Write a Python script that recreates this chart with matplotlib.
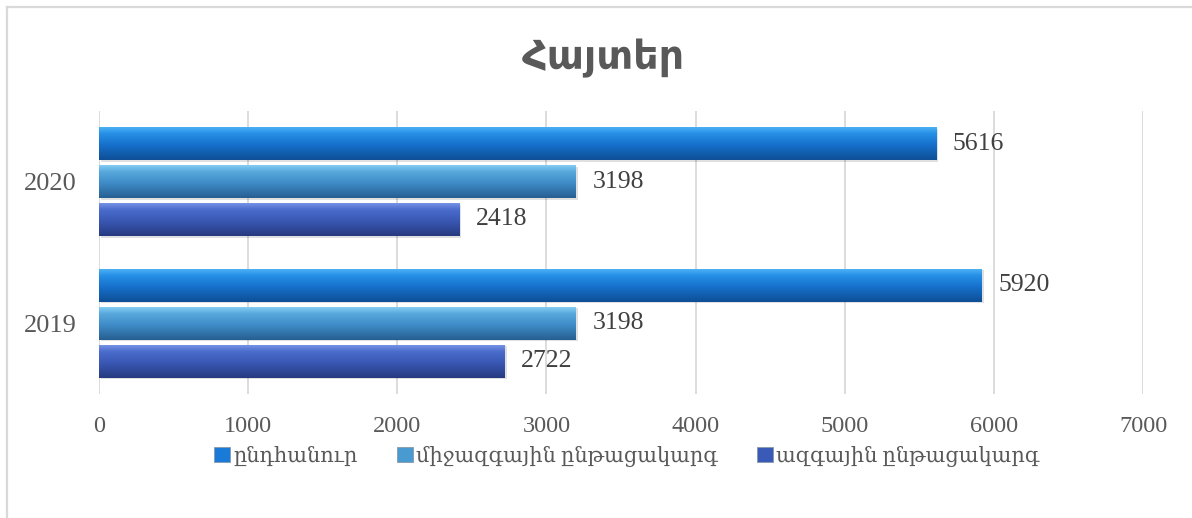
import numpy as np
import matplotlib
matplotlib.use("Agg")
import matplotlib.pyplot as plt
from matplotlib.patches import Patch
from matplotlib.lines import Line2D
from matplotlib.colors import to_rgb

# ---- data ----
years = ["2019", "2020"]
series_names = ["ընդհանուր", "միջազգային ընթացակարգ", "ազգային ընթացակարգ"]
total = [5920, 5616]
international = [3198, 3198]
national = [2722, 2418]
title = "Հայտեր"
xticks = [0, 1000, 2000, 3000, 4000, 5000, 6000, 7000]

series_values = [total, international, national]
# gradient stops (top, upper, mid, bottom)
series_grad = [
    ["#52b4f6", "#2690e6", "#1670cc", "#0e4f96"],
    ["#8ad2f6", "#58a8dc", "#3f8cc8", "#275f92"],
    ["#7c98e8", "#4a6ccc", "#3a58b4", "#263a80"],
]
series_mid = ["#1a7ad8", "#4a9ad2", "#3a5ab8"]

FONT = ["Liberation Serif", "DejaVu Serif"]
plt.rcParams["font.family"] = FONT

W, H = 1192, 518
fig = plt.figure(figsize=(W / 100, H / 100), dpi=100)
fig.patch.set_facecolor("white")

# chart frame
fig.add_artist(Line2D([7 / W, 7 / W], [0, 1 - 7 / H], transform=fig.transFigure,
                      color="#d9d9d9", lw=1.6))
fig.add_artist(Line2D([7 / W, 1], [1 - 7 / H, 1 - 7 / H], transform=fig.transFigure,
                      color="#d9d9d9", lw=1.6))

left, right = 99 / W, 1143 / W
top, bottom = 1 - 110.7 / H, 1 - 394 / H
ax = fig.add_axes([left, bottom, right - left, top - bottom])

pitch = 0.268
bh = 0.233
offsets = [pitch, 0.0, -pitch]
y = np.arange(len(years))


def grad_image(stops, n=64):
    cols = [np.array(to_rgb(c)) for c in stops]
    pos = [0.0, 0.22, 0.55, 1.0]  # from top
    t = np.linspace(1, 0, n)  # row 0 bottom -> t=1 (bottom)
    img = np.zeros((n, 1, 3))
    for i, tt in enumerate(t):
        for k in range(len(pos) - 1):
            if pos[k] <= tt <= pos[k + 1]:
                f = (tt - pos[k]) / (pos[k + 1] - pos[k])
                img[i, 0] = cols[k] * (1 - f) + cols[k + 1] * f
                break
    return img


for vals, off, stops, mid, name in zip(series_values, offsets, series_grad, series_mid, series_names):
    # soft shadow
    ax.barh(y + off - 0.012, vals, height=bh, left=12, color="#000000", alpha=0.12,
            zorder=2, linewidth=0)
    bars = ax.barh(y + off, vals, height=bh, color=mid, edgecolor="none", zorder=3, label=name)
    img = grad_image(stops)
    for b, v in zip(bars, vals):
        x0, y0 = b.get_x(), b.get_y()
        w, h = b.get_width(), b.get_height()
        im = ax.imshow(img, extent=[x0, x0 + w, y0, y0 + h], origin="lower",
                       aspect="auto", zorder=4, interpolation="bilinear")
        im.set_clip_path(b)
        ax.text(v + 110, y0 + h / 2, f"{v}", va="center", ha="left",
                fontsize=18.5, color="#404040", zorder=5)

ax.set_xlim(0, 7000)
ax.set_ylim(-0.5, 1.5)
ax.set_xticks(xticks)
ax.set_xticklabels([str(t) for t in xticks])
ax.set_yticks(y)
ax.set_yticklabels(years)
ax.tick_params(axis="x", length=0, pad=16, labelsize=17.5, labelcolor="#595959")
ax.tick_params(axis="y", length=0, pad=16, labelsize=19, labelcolor="#595959")
for s in ax.spines.values():
    s.set_visible(False)
ax.grid(axis="x", color="#d9d9d9", lw=1.3, zorder=0)
ax.set_axisbelow(True)

fig.text(603 / W, 1 - 58 / H, title, ha="center", va="center",
         fontsize=28.5, fontweight="bold", color="#595959", family=["DejaVu Sans"])

handles = [Patch(facecolor=c, edgecolor="#8899aa", linewidth=0.6) for c in series_mid]
leg = fig.legend(handles, series_names, loc="center", bbox_to_anchor=(627 / W, 1 - 456 / H),
                 ncol=3, frameon=False, fontsize=15, handlelength=0.75, handleheight=0.75,
                 handletextpad=0.15, columnspacing=1.9, labelcolor="#595959")

fig.savefig("out.png", dpi=100, facecolor="white")
